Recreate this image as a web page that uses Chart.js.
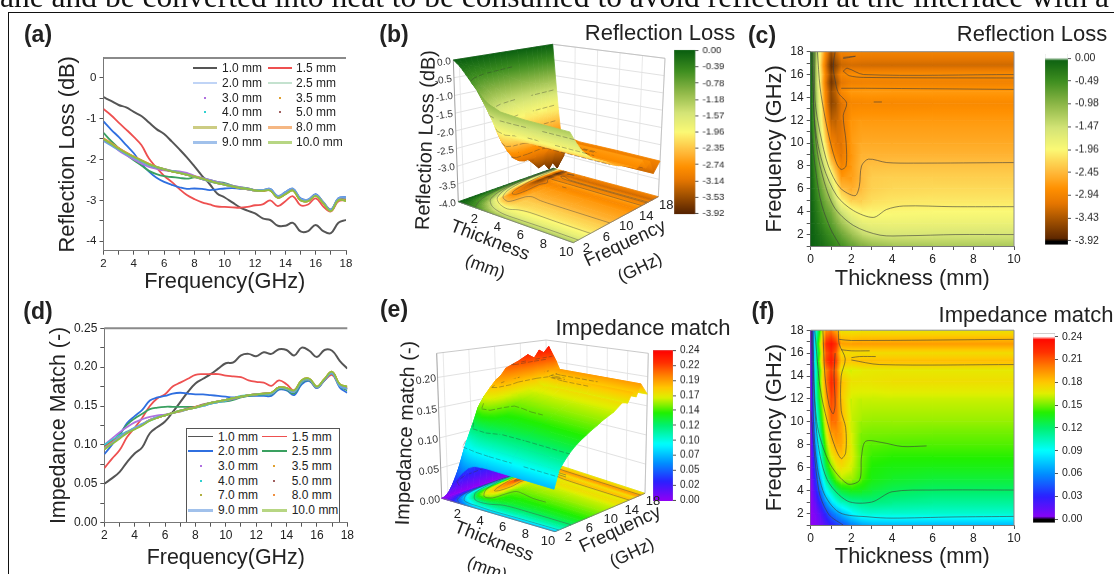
<!DOCTYPE html>
<html>
<head>
<meta charset="utf-8">
<title>Reflection loss and impedance match</title>
<style>
html, body { margin: 0; background: #fff; overflow: hidden; }
#page { position: relative; width: 1114px; height: 574px; overflow: hidden; font-family: "Liberation Sans", Arial, sans-serif; color: #222; filter: blur(0.35px); }
#page canvas { position: absolute; }
.txt { position: absolute; white-space: nowrap; line-height: 1; }
.rule { position: absolute; background: #111; }
.legbox { position: absolute; border: 1px solid #555; border-bottom: 0; box-sizing: border-box; background: #fff; }
</style>
<script src="https://cdn.jsdelivr.net/npm/chart.js@4/dist/chart.umd.min.js"></script>
</head>
<body>
<div id="page"></div>
<script>
/* ---- line panels: one value per 0.5 GHz ---- */
var freqGHz = [2,2.5,3,3.5,4,4.5,5,5.5,6,6.5,7,7.5,8,8.5,9,9.5,10,10.5,11,11.5,12,12.5,13,13.5,14,14.5,15,15.5,16,16.5,17,17.5,18];
var seriesLabels = ['1.0 mm','1.5 mm','2.0 mm','2.5 mm','3.0 mm','3.5 mm','4.0 mm','5.0 mm','7.0 mm','8.0 mm','9.0 mm','10.0 mm'];
var seriesColors = ['#555555','#ee5050','#2f6fe0','#3aa060','#b070e0','#e0a030','#30d0d0','#a06060','#b0b040','#f09040','#6ea0e0','#90c040'];

var rl10 = [-0.48,-0.57,-0.67,-0.73,-0.84,-0.94,-1.1,-1.26,-1.38,-1.56,-1.75,-1.95,-2.17,-2.4,-2.6,-2.83,-2.93,-3.05,-3.17,-3.25,-3.32,-3.44,-3.48,-3.62,-3.62,-3.55,-3.76,-3.75,-3.6,-3.75,-3.8,-3.55,-3.48];
var rl15 = [-0.77,-0.92,-1.1,-1.27,-1.45,-1.65,-1.98,-2.2,-2.4,-2.55,-2.72,-2.87,-2.97,-3.05,-3.1,-3.15,-3.16,-3.17,-3.18,-3.16,-3.12,-3.1,-3.0,-3.14,-3.02,-2.9,-3.12,-3.1,-2.95,-3.15,-3.27,-3.02,-3.0];
var rl20 = [-1.07,-1.27,-1.45,-1.65,-1.85,-2.1,-2.3,-2.45,-2.55,-2.62,-2.68,-2.72,-2.71,-2.72,-2.75,-2.73,-2.71,-2.7,-2.72,-2.72,-2.75,-2.75,-2.72,-2.92,-2.8,-2.72,-2.95,-2.98,-2.85,-3.05,-3.22,-2.95,-2.92];
var rl25 = [-1.35,-1.55,-1.72,-1.88,-2.02,-2.15,-2.28,-2.36,-2.41,-2.43,-2.45,-2.47,-2.44,-2.45,-2.5,-2.55,-2.58,-2.64,-2.68,-2.7,-2.75,-2.76,-2.74,-2.92,-2.82,-2.74,-2.98,-3.0,-2.88,-3.06,-3.24,-2.97,-2.95];
var rl30 = [-1.5,-1.62,-1.78,-1.9,-2.0,-2.1,-2.18,-2.23,-2.27,-2.28,-2.29,-2.33,-2.4,-2.45,-2.5,-2.55,-2.6,-2.64,-2.68,-2.71,-2.75,-2.76,-2.74,-2.9,-2.82,-2.73,-2.98,-3.0,-2.88,-3.06,-3.25,-2.98,-2.95];
var rl35 = [-1.5,-1.62,-1.74,-1.85,-1.95,-2.05,-2.13,-2.2,-2.25,-2.29,-2.33,-2.38,-2.43,-2.48,-2.53,-2.57,-2.61,-2.65,-2.69,-2.72,-2.75,-2.76,-2.74,-2.92,-2.83,-2.74,-2.98,-3.0,-2.87,-3.05,-3.24,-2.97,-2.97];
var rl40 = [-1.52,-1.64,-1.76,-1.87,-1.96,-2.05,-2.14,-2.2,-2.24,-2.28,-2.32,-2.37,-2.42,-2.47,-2.52,-2.57,-2.61,-2.65,-2.69,-2.72,-2.75,-2.76,-2.75,-2.93,-2.84,-2.75,-2.99,-3.01,-2.88,-3.06,-3.25,-2.98,-2.98];
var rl50 = [-1.52,-1.63,-1.74,-1.84,-1.94,-2.03,-2.12,-2.19,-2.24,-2.29,-2.33,-2.38,-2.42,-2.48,-2.53,-2.58,-2.62,-2.66,-2.7,-2.73,-2.76,-2.77,-2.75,-2.93,-2.84,-2.75,-2.99,-3.01,-2.88,-3.06,-3.25,-2.98,-2.99];
var rl70 = [-1.5,-1.62,-1.73,-1.84,-1.93,-2.02,-2.11,-2.18,-2.24,-2.29,-2.33,-2.38,-2.42,-2.47,-2.53,-2.58,-2.62,-2.66,-2.7,-2.73,-2.76,-2.77,-2.76,-2.94,-2.85,-2.76,-3.0,-3.02,-2.89,-3.07,-3.26,-2.99,-3.0];
var rl80 = [-1.48,-1.6,-1.72,-1.83,-1.93,-2.02,-2.11,-2.18,-2.23,-2.28,-2.32,-2.37,-2.41,-2.47,-2.53,-2.58,-2.62,-2.66,-2.7,-2.73,-2.76,-2.77,-2.76,-2.94,-2.85,-2.76,-3.0,-3.02,-2.89,-3.07,-3.26,-2.99,-3.01];
var rl90 = [-1.55,-1.66,-1.77,-1.86,-1.96,-2.05,-2.13,-2.19,-2.24,-2.28,-2.32,-2.37,-2.42,-2.48,-2.54,-2.58,-2.62,-2.66,-2.7,-2.73,-2.76,-2.75,-2.72,-2.89,-2.8,-2.71,-2.96,-2.98,-2.86,-3.04,-3.23,-2.95,-2.93];
var rl100 = [-1.5,-1.62,-1.74,-1.85,-1.94,-2.03,-2.12,-2.18,-2.24,-2.29,-2.33,-2.37,-2.42,-2.47,-2.53,-2.58,-2.62,-2.66,-2.7,-2.72,-2.76,-2.77,-2.76,-2.94,-2.85,-2.76,-3.0,-3.02,-2.89,-3.07,-3.26,-2.99,-3.02];

var im10 = [0.05,0.057,0.065,0.078,0.089,0.097,0.115,0.123,0.13,0.142,0.155,0.168,0.179,0.185,0.191,0.198,0.205,0.206,0.215,0.217,0.214,0.219,0.217,0.223,0.222,0.215,0.225,0.221,0.213,0.222,0.221,0.208,0.198];
var im15 = [0.07,0.082,0.093,0.11,0.122,0.135,0.15,0.16,0.165,0.175,0.18,0.185,0.19,0.191,0.191,0.191,0.189,0.188,0.187,0.183,0.181,0.18,0.176,0.183,0.178,0.17,0.182,0.183,0.174,0.183,0.19,0.176,0.172];
var im20 = [0.088,0.1,0.112,0.128,0.137,0.145,0.157,0.161,0.163,0.166,0.167,0.166,0.165,0.165,0.164,0.163,0.162,0.161,0.162,0.163,0.163,0.163,0.163,0.171,0.17,0.164,0.178,0.182,0.173,0.183,0.192,0.174,0.167];
var im25 = [0.098,0.104,0.114,0.126,0.134,0.14,0.146,0.148,0.149,0.149,0.149,0.149,0.149,0.151,0.153,0.155,0.156,0.158,0.161,0.163,0.164,0.165,0.165,0.172,0.171,0.166,0.18,0.183,0.174,0.184,0.192,0.176,0.17];
var im30 = [0.1,0.108,0.116,0.123,0.129,0.133,0.136,0.138,0.139,0.141,0.143,0.146,0.148,0.15,0.153,0.155,0.157,0.159,0.162,0.164,0.165,0.166,0.166,0.173,0.172,0.168,0.181,0.184,0.174,0.184,0.193,0.177,0.172];
var im35 = [0.095,0.103,0.11,0.116,0.121,0.126,0.132,0.135,0.138,0.141,0.144,0.146,0.148,0.151,0.154,0.156,0.158,0.16,0.162,0.164,0.165,0.166,0.167,0.174,0.173,0.169,0.182,0.184,0.174,0.184,0.193,0.177,0.172];
var im40 = [0.1,0.106,0.112,0.117,0.122,0.126,0.131,0.135,0.138,0.141,0.143,0.146,0.148,0.15,0.153,0.155,0.157,0.16,0.163,0.164,0.165,0.165,0.166,0.173,0.172,0.168,0.181,0.184,0.174,0.184,0.192,0.176,0.172];
var im50 = [0.097,0.104,0.11,0.116,0.121,0.126,0.132,0.135,0.138,0.141,0.144,0.147,0.149,0.152,0.154,0.156,0.158,0.16,0.162,0.164,0.165,0.166,0.167,0.174,0.173,0.169,0.182,0.184,0.174,0.184,0.193,0.177,0.173];
var im70 = [0.094,0.102,0.109,0.116,0.121,0.126,0.132,0.135,0.138,0.141,0.144,0.146,0.148,0.151,0.154,0.156,0.158,0.16,0.162,0.164,0.165,0.166,0.167,0.174,0.173,0.169,0.183,0.185,0.175,0.185,0.194,0.178,0.174];
var im80 = [0.096,0.103,0.11,0.116,0.121,0.126,0.132,0.135,0.138,0.141,0.143,0.146,0.149,0.151,0.154,0.156,0.158,0.16,0.162,0.164,0.165,0.166,0.167,0.174,0.173,0.17,0.183,0.185,0.175,0.185,0.194,0.178,0.175];
var im90 = [0.095,0.102,0.11,0.116,0.122,0.127,0.132,0.136,0.138,0.141,0.144,0.146,0.148,0.151,0.154,0.156,0.158,0.16,0.162,0.164,0.165,0.166,0.166,0.173,0.172,0.168,0.182,0.184,0.174,0.184,0.192,0.176,0.172];
var im100 = [0.094,0.101,0.108,0.115,0.12,0.125,0.131,0.135,0.138,0.141,0.144,0.146,0.148,0.151,0.154,0.156,0.158,0.16,0.162,0.164,0.165,0.166,0.167,0.174,0.173,0.17,0.183,0.185,0.175,0.185,0.194,0.178,0.175];

/* ---- surface grids: rows follow gridFreq, columns follow gridThick ---- */
var gridThick = [0,0.25,0.5,0.75,1,1.25,1.5,2,2.5,3,4,6,10];
var gridFreq = [1,2,3,4,5,6,7,8,9,10,12,13.5,14.5,15.3,16,16.8,18];
var rlGrid = [
  [0,-0.06,-0.13,-0.22,-0.32,-0.42,-0.52,-0.72,-0.9,-1.02,-1.15,-1.2,-1.22],
  [0,-0.1,-0.22,-0.36,-0.48,-0.62,-0.77,-1.07,-1.35,-1.5,-1.55,-1.55,-1.52],
  [0,-0.17,-0.36,-0.54,-0.67,-0.88,-1.1,-1.45,-1.72,-1.78,-1.8,-1.78,-1.78],
  [0,-0.23,-0.48,-0.7,-0.84,-1.14,-1.45,-1.85,-2.02,-2.0,-1.98,-1.96,-1.95],
  [0,-0.3,-0.6,-0.88,-1.1,-1.52,-1.98,-2.3,-2.28,-2.18,-2.12,-2.1,-2.1],
  [0,-0.38,-0.75,-1.1,-1.38,-1.9,-2.4,-2.55,-2.41,-2.27,-2.22,-2.2,-2.2],
  [0,-0.46,-0.92,-1.35,-1.75,-2.25,-2.72,-2.68,-2.45,-2.29,-2.28,-2.28,-2.28],
  [0,-0.55,-1.1,-1.6,-2.17,-2.6,-2.97,-2.71,-2.44,-2.4,-2.38,-2.38,-2.38],
  [0,-0.65,-1.3,-1.9,-2.6,-2.95,-3.1,-2.75,-2.5,-2.5,-2.5,-2.5,-2.5],
  [0,-0.75,-1.5,-2.2,-2.93,-3.1,-3.16,-2.71,-2.58,-2.58,-2.58,-2.58,-2.58],
  [0,-0.95,-1.85,-2.7,-3.32,-3.3,-3.12,-2.75,-2.72,-2.72,-2.72,-2.72,-2.72],
  [0,-1.05,-2.0,-2.95,-3.62,-3.45,-3.14,-2.92,-2.9,-2.9,-2.9,-2.88,-2.88],
  [0,-1.1,-2.1,-3.0,-3.55,-3.3,-2.9,-2.72,-2.72,-2.7,-2.72,-2.72,-2.72],
  [0,-1.15,-2.2,-3.15,-3.76,-3.5,-3.12,-3.0,-2.98,-2.98,-2.98,-2.98,-2.98],
  [0,-1.15,-2.15,-3.0,-3.6,-3.3,-2.95,-2.85,-2.85,-2.85,-2.85,-2.85,-2.85],
  [0,-1.2,-2.3,-3.2,-3.82,-3.6,-3.27,-3.22,-3.23,-3.24,-3.24,-3.24,-3.24],
  [0,-1.1,-2.1,-2.9,-3.5,-3.2,-3.0,-2.92,-2.95,-2.95,-2.95,-2.95,-2.97]
];
var imGrid = [
  [0,0.004,0.01,0.018,0.028,0.036,0.042,0.055,0.065,0.07,0.072,0.072,0.072],
  [0,0.008,0.018,0.034,0.05,0.06,0.07,0.088,0.098,0.1,0.1,0.1,0.1],
  [0,0.015,0.035,0.062,0.08,0.095,0.105,0.112,0.115,0.118,0.115,0.112,0.112],
  [0,0.025,0.055,0.09,0.105,0.12,0.13,0.137,0.135,0.13,0.125,0.122,0.122],
  [0,0.035,0.075,0.11,0.13,0.148,0.158,0.157,0.146,0.137,0.133,0.13,0.13],
  [0,0.045,0.09,0.125,0.15,0.165,0.172,0.163,0.149,0.139,0.137,0.136,0.136],
  [0,0.055,0.1,0.14,0.165,0.178,0.182,0.167,0.149,0.143,0.141,0.141,0.141],
  [0,0.065,0.108,0.15,0.179,0.19,0.19,0.165,0.149,0.147,0.146,0.146,0.146],
  [0,0.072,0.12,0.162,0.191,0.197,0.191,0.164,0.152,0.151,0.151,0.15,0.15],
  [0,0.08,0.13,0.172,0.205,0.203,0.189,0.162,0.156,0.155,0.155,0.155,0.155],
  [0,0.1,0.15,0.188,0.214,0.208,0.181,0.163,0.162,0.162,0.162,0.162,0.162],
  [0,0.105,0.158,0.2,0.223,0.213,0.183,0.171,0.17,0.17,0.172,0.172,0.172],
  [0,0.1,0.155,0.198,0.215,0.205,0.17,0.164,0.167,0.168,0.168,0.168,0.168],
  [0,0.108,0.165,0.215,0.228,0.216,0.183,0.181,0.183,0.183,0.183,0.183,0.183],
  [0,0.1,0.16,0.21,0.222,0.208,0.174,0.173,0.173,0.173,0.173,0.173,0.173],
  [0,0.11,0.17,0.22,0.232,0.22,0.19,0.192,0.192,0.192,0.192,0.192,0.192],
  [0,0.095,0.15,0.195,0.2,0.188,0.172,0.167,0.17,0.17,0.17,0.17,0.17]
];

/* ---- contour lines as [thickness, frequency], level in the panel's unit ---- */
var rlContours = [
  { level: -2.94, pts: [[1.2,18],[1.11,16.7],[1.2,15.5],[1.36,14.4],[1.77,13.5],[1.6,12.4],[1.74,10.1],[1.74,8],[1.5,7.7],[1.28,8.2],[0.98,10],[0.7,12.3],[0.46,14.9],[0.33,18]] },
  { level: -2.45, pts: [[0.21,18],[0.21,13.8],[0.46,10.9],[0.87,8],[1.44,6.1],[2.18,5.4],[2.39,6.2],[2.5,8],[2.84,8.6],[3.74,8.3],[5.05,8.25],[10,8.3]] },
  { level: -1.96, pts: [[0.1,18],[0.21,11.5],[0.62,8],[1.28,5.4],[2.1,4.1],[3.08,3.5],[3.74,4.2],[4.56,4.5],[7,4.44],[10,4.44]] },
  { level: -1.47, pts: [[0.05,18],[0.21,11],[0.46,8],[1.12,4.5],[2.1,2.8],[3.41,1.95],[4.7,1.9],[7.1,2],[10,2]] },
  { level: -0.49, pts: [[0,11],[0.46,5.2],[0.95,2.6],[1.44,1.03]] },
  { level: -2.94, pts: [[1.6,16.3],[1.8,16.55],[2.6,16],[10,16]] },
  { level: -2.94, pts: [[1.6,16.3],[1.9,15.9],[2.6,15.75],[10,15.7]] },
  { level: -2.94, pts: [[1.5,14.8],[2.7,14.8],[10,14.7]] },
  { level: -2.94, pts: [[1.6,17.5],[2.2,17.6],[1.6,17.4]] },
  { level: -2.94, pts: [[3.1,13.6],[3.5,13.6]] }
];
var imContours = [
  { level: 0.21, pts: [[1.2,16],[1.15,14],[1.2,11.5],[1.1,10.7],[0.9,11.5],[0.7,14],[0.6,18]] },
  { level: 0.18, pts: [[1.36,18],[1.4,16.8],[1.7,15.5],[1.5,14],[1.5,11],[1.72,9.5],[1.72,7.3],[1.5,6.8],[1.2,7.8],[0.82,10],[0.46,13],[0.2,18]] },
  { level: 0.15, pts: [[0.1,18],[0.3,10],[0.9,6.5],[1.8,4.6],[2.4,4.9],[2.5,7],[2.7,8.3],[3.5,8.2],[4.5,7.85],[5.7,7.9]] },
  { level: 0.12, pts: [[0.05,18],[0.3,9],[0.8,5],[1.8,3.1],[3,3],[4,3.9],[6,4.05],[10,4.05]] },
  { level: 0.09, pts: [[0.03,18],[0.2,8],[0.6,4],[1.4,2.1],[2.9,1.7],[4,1.6],[7,1.7],[10,1.75]] },
  { level: 0.03, pts: [[0,11],[0.4,4],[0.9,1.9],[1.6,1]] },
  { level: 0.18, pts: [[1.4,17.2],[2,17.1],[10,17.2]] },
  { level: 0.18, pts: [[1.5,16.3],[2,16.2],[2.9,16.2]] },
  { level: 0.18, pts: [[2,15.6],[2.4,15.7],[3.2,15.7]] },
  { level: 0.18, pts: [[2,15.4],[3.4,15],[10,15]] }
];

/* ---- colour maps and tick lists ---- */
var rlStopValues = [0,-0.5,-1,-1.5,-1.96,-2.45,-2.8,-3.1,-3.45,-3.92];
var rlStopColors = ['#0a5f10','#3f8f20','#8fb848','#d4e476','#fbf975','#ffb93a','#ff9000','#e87800','#a85500','#562300'];
var imStopValues = [0,0.03,0.06,0.09,0.12,0.14,0.15,0.165,0.18,0.2,0.22,0.24];
var imStopColors = ['#9000f5','#2a20ff','#0090ff','#00ffff','#00f070','#20f000','#70f000','#e0f000','#ffc800','#ff8000','#ff3000','#ff0000'];
var barTicksB = [0,-0.392,-0.784,-1.176,-1.568,-1.96,-2.352,-2.744,-3.136,-3.528,-3.92];
var barTicksC = [0,-0.49,-0.98,-1.47,-1.96,-2.45,-2.94,-3.43,-3.92];
var barTicksE = [0.24,0.216,0.192,0.168,0.144,0.12,0.096,0.072,0.048,0.024,0];
var barTicksF = [0.24,0.21,0.18,0.15,0.12,0.09,0.06,0.03,0];
var zTicksB = [0,-0.5,-1,-1.5,-2,-2.5,-3,-3.5,-4];
var zTicksE = [0,0.05,0.1,0.15,0.2];
var thickTicks3d = [2,4,6,8,10];
var freqTicks3d = [2,6,10,14,18];
var lineFreqTicks = [2,3,4,5,6,7,8,9,10,11,12,13,14,15,16,17,18];
var rlAxisTicks = [0,-0.5,-1,-1.5,-2,-2.5,-3,-3.5,-4];
var imAxisTicks = [0,0.025,0.05,0.075,0.1,0.125,0.15,0.175,0.2,0.225,0.25];
var heatThickTicks = [0,1,2,3,4,5,6,7,8,9,10];
var heatFreqTicks = [1,2,3,4,5,6,7,8,9,10,11,12,13,14,15,16,17,18];

(function () {
    'use strict';

    var page = document.getElementById('page');
    var FONT = '"Liberation Sans", Arial, sans-serif';
    Chart.defaults.font.family = FONT;
    Chart.defaults.animation = false;
    Chart.defaults.events = [];
    Chart.defaults.color = '#222';

    // ---- small helpers ----------------------------------------------------
    var text = function (str, x, y, size, o) {
        o = o || {};
        var d = document.createElement('div');
        d.className = 'txt';
        d.textContent = str;
        d.style.left = x + 'px';
        d.style.top = y + 'px';
        d.style.fontSize = size + 'px';
        if (o.bold) d.style.fontWeight = 'bold';
        if (o.color) d.style.color = o.color;
        if (o.family) d.style.fontFamily = o.family;
        var ax = o.anchor === 'l' ? '0' : o.anchor === 'r' ? '-100%' : '-50%';
        d.style.transform = 'translate(' + ax + ',-50%) rotate(' + (o.rot || 0) + 'deg)';
        page.appendChild(d);
        return d;
    };

    var rule = function (x, y, w, h) {
        var d = document.createElement('div');
        d.className = 'rule';
        d.style.cssText = 'left:' + x + 'px;top:' + y + 'px;width:' + w + 'px;height:' + h + 'px';
        page.appendChild(d);
    };

    var addCanvas = function (x0, y0, x1, y1) {
        var c = document.createElement('canvas');
        c.width = x1 - x0;
        c.height = y1 - y0;
        c.style.left = x0 + 'px';
        c.style.top = y0 + 'px';
        c.style.width = (x1 - x0) + 'px';
        c.style.height = (y1 - y0) + 'px';
        page.appendChild(c);
        return c;
    };

    var hexRgb = function (h) {
        return [parseInt(h.substr(1, 2), 16), parseInt(h.substr(3, 2), 16), parseInt(h.substr(5, 2), 16)];
    };

    var makeMap = function (vals, cols) {
        var rgb = cols.map(hexRgb);
        var asc = vals[0] < vals[vals.length - 1];
        return function (v) {
            var n = vals.length, i;
            if (asc ? v <= vals[0] : v >= vals[0]) return 'rgb(' + rgb[0].join(',') + ')';
            if (asc ? v >= vals[n - 1] : v <= vals[n - 1]) return 'rgb(' + rgb[n - 1].join(',') + ')';
            for (i = 1; i < n; i++) {
                if (asc ? v <= vals[i] : v >= vals[i]) {
                    var k = (v - vals[i - 1]) / (vals[i] - vals[i - 1]);
                    return 'rgb(' + [0, 1, 2].map(function (c) {
                        return Math.round(rgb[i - 1][c] + k * (rgb[i][c] - rgb[i - 1][c]));
                    }).join(',') + ')';
                }
            }
        };
    };
    var rlMap = makeMap(rlStopValues, rlStopColors);
    var imMap = makeMap(imStopValues, imStopColors);

    // Gradient across one quad, fitted to the four corner values so neighbouring
    // cells blend without having to resample the grid.
    var quadPaint = function (c) {
        var ds = c.dataset;
        if (ds._paint) return ds._paint;
        var sx = c.chart.scales.x, sy = c.chart.scales.y;
        var p = ds.data.slice(0, 4).map(function (d) {
            return [sx.getPixelForValue(d.x), sy.getPixelForValue(d.y)];
        });
        var v = ds.cornerValues;
        var mean = (v[0] + v[1] + v[2] + v[3]) / 4;
        if (!isFinite(p[0][0]) || !isFinite(p[0][1])) return ds.colorMap(mean);
        var ux = (p[1][0] + p[2][0] - p[0][0] - p[3][0]) / 2, uy = (p[1][1] + p[2][1] - p[0][1] - p[3][1]) / 2;
        var wx = (p[2][0] + p[3][0] - p[0][0] - p[1][0]) / 2, wy = (p[2][1] + p[3][1] - p[0][1] - p[1][1]) / 2;
        var du = (v[1] + v[2] - v[0] - v[3]) / 2, dw = (v[2] + v[3] - v[0] - v[1]) / 2;
        var det = ux * wy - uy * wx;
        if (Math.abs(det) < 0.01) return (ds._paint = ds.colorMap(mean));
        var gx = (du * wy - dw * uy) / det, gy = (ux * dw - wx * du) / det;
        var g = Math.sqrt(gx * gx + gy * gy);
        if (g < 1e-9) return (ds._paint = ds.colorMap(mean));
        var dx = gx / g, dy = gy / g;
        var cx = (p[0][0] + p[1][0] + p[2][0] + p[3][0]) / 4, cy = (p[0][1] + p[1][1] + p[2][1] + p[3][1]) / 4;
        var lo = 1e9, hi = -1e9;
        p.forEach(function (q) {
            var s = (q[0] - cx) * dx + (q[1] - cy) * dy;
            lo = Math.min(lo, s);
            hi = Math.max(hi, s);
        });
        var grad = c.chart.ctx.createLinearGradient(cx + dx * lo, cy + dy * lo, cx + dx * hi, cy + dy * hi);
        for (var i = 0; i <= 5; i++) {
            var s2 = lo + (hi - lo) * i / 5;
            grad.addColorStop(i / 5, ds.colorMap(mean + g * s2));
        }
        return (ds._paint = grad);
    };

    var quadDataset = function (pts, vals, map) {
        return {
            data: pts.concat([pts[0]]),
            cornerValues: vals,
            colorMap: map,
            showLine: true,
            fill: 'shape',
            pointRadius: 0,
            tension: 0,
            borderWidth: 0.8,
            backgroundColor: quadPaint,
            borderColor: quadPaint
        };
    };

    var framePlugin = function (width, sides) {
        return {
            id: 'frameLines',
            afterDraw: function (chart) {
                var a = chart.chartArea, ctx = chart.ctx;
                ctx.save();
                ctx.strokeStyle = '#8a8a8a';
                ctx.lineWidth = width;
                ctx.beginPath();
                if (sides.indexOf('t') >= 0) { ctx.moveTo(a.left, a.top); ctx.lineTo(a.right, a.top); }
                if (sides.indexOf('r') >= 0) { ctx.moveTo(a.right, a.top); ctx.lineTo(a.right, a.bottom); }
                ctx.stroke();
                ctx.restore();
            }
        };
    };

    var tickList = function (list) {
        return function (scale) {
            scale.ticks = list.map(function (v) { return { value: v }; });
        };
    };

    // Chart whose plot area lands exactly on area = [left, top, right, bottom]
    var axesChart = function (cfg) {
        var o = cfg.outer, a = cfg.area;
        var canvas = addCanvas(o[0], o[1], o[2], o[3]);
        return new Chart(canvas, {
            type: 'scatter',
            data: { datasets: cfg.datasets },
            plugins: [framePlugin(cfg.frameWidth, cfg.frameSides)],
            options: {
                responsive: false,
                layout: { padding: { left: 0, top: a[1] - o[1], right: o[2] - a[2], bottom: 0 } },
                plugins: { legend: false, tooltip: false },
                scales: {
                    x: {
                        type: 'linear',
                        min: cfg.xMin,
                        max: cfg.xMax,
                        afterFit: function (s) { s.height = o[3] - a[3]; },
                        afterBuildTicks: tickList(cfg.xTicks),
                        grid: { drawOnChartArea: false, color: '#555', tickLength: 4 },
                        border: { color: '#777' },
                        ticks: {
                            autoSkip: false, maxRotation: 0, padding: 2, color: '#222',
                            font: { size: cfg.tickSize },
                            callback: cfg.xLabel
                        },
                        title: {
                            display: true, text: cfg.xTitle, color: '#222',
                            font: { size: cfg.titleSize }, padding: { top: 0, bottom: cfg.xTitlePad }
                        }
                    },
                    y: {
                        type: 'linear',
                        min: cfg.yMin,
                        max: cfg.yMax,
                        afterFit: function (s) { s.width = a[0] - o[0]; },
                        afterBuildTicks: tickList(cfg.yTicks),
                        grid: { drawOnChartArea: false, color: '#555', tickLength: 4 },
                        border: { color: '#777' },
                        ticks: {
                            autoSkip: false, padding: 3, color: '#222',
                            font: { size: cfg.tickSize },
                            callback: cfg.yLabel
                        },
                        title: {
                            display: true, text: cfg.yTitle, color: '#222',
                            font: { size: cfg.titleSize }, padding: { top: cfg.yTitlePad, bottom: 0 }
                        }
                    }
                }
            }
        });
    };

    // ---- colour bars ------------------------------------------------------
    var colorBar = function (area, rangeTop, rangeBottom, ticks, map, fontSize, tips) {
        var canvas = addCanvas(area[0] - 2, area[1] - 8, area[2] + 42, area[3] + 8);
        new Chart(canvas, {
            type: 'bar',
            data: {
                labels: ['scale'],
                datasets: [{
                    data: [[rangeBottom, rangeTop]],
                    barPercentage: 1,
                    categoryPercentage: 1,
                    backgroundColor: function (c) {
                        var s = c.chart.scales.y;
                        var top = s.getPixelForValue(rangeTop), bot = s.getPixelForValue(rangeBottom);
                        if (!isFinite(top) || !isFinite(bot)) return '#888';
                        var g = c.chart.ctx.createLinearGradient(0, top, 0, bot);
                        var steps = 60, i;
                        var hi = ticks[0], lo = ticks[ticks.length - 1];
                        if (hi < lo) { var t0 = hi; hi = lo; lo = t0; }
                        for (i = 0; i <= steps; i++) {
                            var v = rangeTop + (rangeBottom - rangeTop) * i / steps;
                            var col = map(v);
                            if (tips && v > hi) col = '#ffffff';
                            if (tips && v < lo) col = '#000000';
                            g.addColorStop(i / steps, col);
                        }
                        return g;
                    },
                    borderColor: '#999',
                    borderWidth: 0.5
                }]
            },
            options: {
                responsive: false,
                layout: { padding: { left: 2, top: 8, right: 0, bottom: 8 } },
                plugins: { legend: false, tooltip: false },
                scales: {
                    x: { display: false, offset: true, grid: { display: false } },
                    y: {
                        position: 'right',
                        min: rangeBottom,
                        max: rangeTop,
                        afterFit: function (s) { s.width = 42; },
                        afterBuildTicks: tickList(ticks),
                        grid: { drawOnChartArea: false, color: '#555', tickLength: 3 },
                        border: { display: false },
                        ticks: {
                            autoSkip: false, padding: 4, color: '#222',
                            font: { size: fontSize },
                            callback: function (v) { return Number(v).toFixed(2); }
                        }
                    }
                }
            }
        });
    };

    // ---- contour maps (c) and (f) -----------------------------------------
    var heatDatasets = function (grid, map, contours) {
        var sets = [];
        contours.forEach(function (c) {
            sets.push({
                data: c.pts.map(function (p) { return { x: p[0], y: p[1] }; }),
                showLine: true, pointRadius: 0, tension: 0.3, fill: false,
                borderColor: 'rgba(60,60,60,0.6)', borderWidth: 1
            });
        });
        for (var r = 0; r < gridFreq.length - 1; r++) {
            for (var k = 0; k < gridThick.length - 1; k++) {
                sets.push(quadDataset([
                    { x: gridThick[k], y: gridFreq[r] },
                    { x: gridThick[k + 1], y: gridFreq[r] },
                    { x: gridThick[k + 1], y: gridFreq[r + 1] },
                    { x: gridThick[k], y: gridFreq[r + 1] }
                ], [grid[r][k], grid[r][k + 1], grid[r + 1][k + 1], grid[r + 1][k]], map));
            }
        }
        return sets;
    };

    var evenLabel = function (v) { return v % 2 === 0 ? String(v) : ''; };

    axesChart({
        outer: [757, 40, 1030, 293], area: [810.7, 51.7, 1014, 246],
        datasets: heatDatasets(rlGrid, rlMap, rlContours),
        xMin: 0, xMax: 10, yMin: 1, yMax: 18, xTicks: heatThickTicks, yTicks: heatFreqTicks,
        xLabel: evenLabel,
        yLabel: function (v) { return v % 2 === 0 ? String(v) : ''; },
        xTitle: 'Thickness (mm)', yTitle: 'Frequency (GHz)', titleSize: 21.8, tickSize: 12,
        xTitlePad: 1.4, yTitlePad: 5, frameWidth: 1, frameSides: 'tr'
    });
    axesChart({
        outer: [757, 320, 1030, 571], area: [810.7, 330, 1014, 525],
        datasets: heatDatasets(imGrid, imMap, imContours),
        xMin: 0, xMax: 10, yMin: 1, yMax: 18, xTicks: heatThickTicks, yTicks: heatFreqTicks,
        xLabel: evenLabel,
        yLabel: function (v) { return v % 2 === 0 ? String(v) : ''; },
        xTitle: 'Thickness (mm)', yTitle: 'Frequency (GHz)', titleSize: 21.8, tickSize: 12,
        xTitlePad: 1, yTitlePad: 5, frameWidth: 1, frameSides: 'tr'
    });

    colorBar([1044.7, 52, 1067.7, 246.7], 0.08, -4, barTicksC, rlMap, 10.5, true);
    colorBar([1032.7, 330.7, 1055.3, 525], 0.2446, -0.0047, barTicksF, imMap, 10.5, true);
    colorBar([674.3, 48.3, 695.7, 216], 0.02, -3.94, barTicksB, rlMap, 9.5, false);
    colorBar([652.7, 348.3, 673.3, 502.7], 0.2405, -0.001, barTicksE, imMap, 10, false);

    // ---- 3D panels (b) and (e) --------------------------------------------
    // Corners of the data box on the page, interpolated for any (t, f, z).
    var makeProjector = function (box) {
        return function (t, f, z) {
            var a = t / 10, b = (f - 1) / 17, c = (z - box.zMin) / (box.zMax - box.zMin);
            var mix = function (q, i) {
                var near = q.L[i] + (q.F[i] - q.L[i]) * a;
                var far = q.B[i] + (q.R[i] - q.B[i]) * a;
                return near + (far - near) * b;
            };
            return {
                x: mix(box.floor, 0) + (mix(box.top, 0) - mix(box.floor, 0)) * c,
                y: mix(box.floor, 1) + (mix(box.top, 1) - mix(box.floor, 1)) * c
            };
        };
    };

    var surface3d = function (box, grid, map, contours, zTicks) {
        var proj = makeProjector(box);
        var back = [], items = [];
        var wire = function (a, b, color, width) {
            back.push({
                data: [a, b], showLine: true, pointRadius: 0, fill: false,
                borderColor: color, borderWidth: width
            });
        };
        // back walls
        zTicks.forEach(function (z) {
            wire(proj(0, 1, z), proj(0, 18, z), '#d9d9d9', 0.8);
            wire(proj(0, 18, z), proj(10, 18, z), '#d9d9d9', 0.8);
        });
        freqTicks3d.forEach(function (f) { wire(proj(0, f, box.zMin), proj(0, f, box.zMax), '#e2e2e2', 0.8); });
        thickTicks3d.forEach(function (t) { wire(proj(t, 18, box.zMin), proj(t, 18, box.zMax), '#e2e2e2', 0.8); });
        wire(proj(0, 1, box.zMax), proj(0, 18, box.zMax), '#bbb', 0.8);
        wire(proj(0, 18, box.zMax), proj(10, 18, box.zMax), '#bbb', 0.8);
        wire(proj(0, 1, box.zMin), proj(0, 1, box.zMax), '#888', 0.8);
        wire(proj(10, 18, box.zMin), proj(10, 18, box.zMax), '#bbb', 0.8);

        var r, k;
        // floor map and its contour lines
        for (r = gridFreq.length - 2; r >= 0; r--) {
            for (k = 0; k < gridThick.length - 1; k++) {
                back.push(quadDataset([
                    proj(gridThick[k], gridFreq[r], box.zMin),
                    proj(gridThick[k + 1], gridFreq[r], box.zMin),
                    proj(gridThick[k + 1], gridFreq[r + 1], box.zMin),
                    proj(gridThick[k], gridFreq[r + 1], box.zMin)
                ], [grid[r][k], grid[r][k + 1], grid[r + 1][k + 1], grid[r + 1][k]], map));
            }
        }
        contours.forEach(function (c) {
            back.push({
                data: c.pts.map(function (p) { return proj(p[0], p[1], box.zMin); }),
                showLine: true, pointRadius: 0, tension: 0.3, fill: false,
                borderColor: 'rgba(70,70,70,0.55)', borderWidth: 0.8
            });
        });
        wire(proj(0, 1, box.zMin), proj(10, 1, box.zMin), '#777', 0.8);
        wire(proj(10, 1, box.zMin), proj(10, 18, box.zMin), '#777', 0.8);

        // surface, sorted far to near, with contour pieces mixed in at their depth
        var depth = function (t, f) { return (f - 1) / 17 - t / 10; };
        for (r = 0; r < gridFreq.length - 1; r++) {
            for (k = 0; k < gridThick.length - 1; k++) {
                items.push({
                    depth: depth((gridThick[k] + gridThick[k + 1]) / 2, (gridFreq[r] + gridFreq[r + 1]) / 2),
                    set: quadDataset([
                        proj(gridThick[k], gridFreq[r], grid[r][k]),
                        proj(gridThick[k + 1], gridFreq[r], grid[r][k + 1]),
                        proj(gridThick[k + 1], gridFreq[r + 1], grid[r + 1][k + 1]),
                        proj(gridThick[k], gridFreq[r + 1], grid[r + 1][k])
                    ], [grid[r][k], grid[r][k + 1], grid[r + 1][k + 1], grid[r + 1][k]], map)
                });
            }
        }
        contours.forEach(function (c) {
            for (var i = 0; i < c.pts.length - 1; i++) {
                var a = c.pts[i], b = c.pts[i + 1];
                items.push({
                    depth: depth((a[0] + b[0]) / 2, (a[1] + b[1]) / 2) - 0.12,
                    set: {
                        data: [proj(a[0], a[1], c.level), proj(b[0], b[1], c.level)],
                        showLine: true, pointRadius: 0, fill: false,
                        borderColor: 'rgba(50,50,50,0.45)', borderWidth: 0.8, borderDash: [5, 2]
                    }
                });
            }
        });
        items.sort(function (p, q) { return q.depth - p.depth; });

        // Chart.js paints dataset 0 last, so the list runs nearest first
        var sets = back.concat(items.map(function (it) { return it.set; })).reverse();
        new Chart(addCanvas(0, 0, 1114, 574), {
            type: 'scatter',
            data: { datasets: sets },
            options: {
                responsive: false,
                layout: { padding: 0 },
                plugins: { legend: false, tooltip: false },
                scales: {
                    x: { display: false, min: 0, max: 1114 },
                    y: { display: false, min: 0, max: 574, reverse: true }
                }
            }
        });
        return proj;
    };

    var boxB = {
        zMin: -4, zMax: 0,
        floor: { L: [458.3, 201.7], F: [573.3, 242.7], R: [658.3, 196.7], B: [553.3, 168.3] },
        top: { L: [453.3, 60], F: [568.3, 83.3], R: [665, 58.3], B: [552.7, 44.3] }
    };
    var boxE = {
        zMin: 0, zMax: 0.24,
        floor: { L: [441.7, 498.3], F: [555, 531.7], R: [645, 493.3], B: [549, 462] },
        top: { L: [436.7, 353.3], F: [551.7, 390], R: [648.3, 353.3], B: [546, 340] }
    };
    var projB = surface3d(boxB, rlGrid, rlMap, rlContours, zTicksB);
    var projE = surface3d(boxE, imGrid, imMap, imContours, zTicksE);

    var labels3d = function (proj, box, zTicks, decimals, zSize) {
        zTicks.forEach(function (z) {
            var p = proj(0, 1, z);
            text(z.toFixed(decimals), p.x - 2, p.y + 2, zSize, { anchor: 'r', color: '#333', rot: -8 });
        });
        thickTicks3d.forEach(function (t) {
            var p = proj(t, 1, box.zMin);
            text(String(t), p.x - 7, p.y + 8, 13);
        });
        freqTicks3d.forEach(function (f) {
            var p = proj(10, f, box.zMin);
            text(String(f), p.x + 8, p.y + 7, 13);
        });
    };
    labels3d(projB, boxB, zTicksB, 1, 10);
    labels3d(projE, boxE, zTicksE, 2, 10.5);

    text('Reflection Loss (dB)', 425, 140, 20, { rot: -88 });
    text('Thickness', 490, 240, 18.5, { rot: 21 });
    text('(mm)', 485, 267, 17.5, { rot: 20 });
    text('Frequency', 625, 243, 18.5, { rot: -25 });
    text('(GHz)', 640, 268, 17.5, { rot: -25 });

    text('Impedance match (-)', 405, 433, 20, { rot: -88 });
    text('Thickness', 494, 541, 18.5, { rot: 21 });
    text('(mm)', 487, 569, 17.5, { rot: 20 });
    text('Frequency', 620, 529, 18.5, { rot: -25 });
    text('(GHz)', 632, 553, 17.5, { rot: -25 });

    // ---- line panels (a) and (d) ------------------------------------------
    var lineDatasets = function (series) {
        return series.map(function (vals, i) {
            return {
                label: seriesLabels[i],
                data: vals.map(function (v, n) { return { x: freqGHz[n], y: v }; }),
                showLine: true,
                pointRadius: 0,
                tension: 0.4,
                fill: false,
                borderColor: seriesColors[i],
                borderWidth: i === 0 ? 2 : 1.8,
                order: -i
            };
        });
    };

    axesChart({
        outer: [50, 48, 360, 296], area: [103.5, 57, 346, 250.7],
        datasets: lineDatasets([rl10, rl15, rl20, rl25, rl30, rl35, rl40, rl50, rl70, rl80, rl90, rl100]),
        xMin: 2, xMax: 18, yMin: -4.23, yMax: 0.48, xTicks: lineFreqTicks, yTicks: rlAxisTicks,
        xLabel: evenLabel,
        yLabel: function (v) { return Number.isInteger(v) ? String(v) : ''; },
        xTitle: 'Frequency(GHz)', yTitle: 'Reflection Loss (dB)', titleSize: 21.8, tickSize: 11.5,
        xTitlePad: 1, yTitlePad: 5, frameWidth: 2, frameSides: 't'
    });
    axesChart({
        outer: [41, 318, 360, 572], area: [104.3, 327.7, 347.3, 522.7],
        datasets: lineDatasets([im10, im15, im20, im25, im30, im35, im40, im50, im70, im80, im90, im100]),
        xMin: 2, xMax: 18, yMin: 0, yMax: 0.25, xTicks: lineFreqTicks, yTicks: imAxisTicks,
        xLabel: evenLabel,
        yLabel: function (v) { return Math.round(v * 1000) % 50 === 0 ? Number(v).toFixed(2) : ''; },
        xTitle: 'Frequency(GHz)', yTitle: 'Impedance Match (-)', titleSize: 21.4, tickSize: 12,
        xTitlePad: 1, yTitlePad: 5, frameWidth: 2, frameSides: 't'
    });

    // ---- legends ----------------------------------------------------------
    var sampleStyle = function (kind, color) {
        var css = 'position:absolute;background:' + color + ';';
        if (kind === 'line') return css + 'height:1.5px;';
        if (kind === 'pale') return css + 'height:1.5px;opacity:0.3;';
        if (kind === 'thick') return css + 'height:3px;opacity:0.65;';
        return css + 'height:2px;';
    };
    var legend = function (rows, col1, col2, kinds, size) {
        seriesLabels.forEach(function (label, i) {
            var col = i % 2 === 0 ? col1 : col2;
            var y = rows[Math.floor(i / 2)];
            var s = document.createElement('div');
            var kind = kinds[i];
            s.style.cssText = sampleStyle(kind, seriesColors[i]) +
                'left:' + (kind === 'dot' ? col.x0 + (col.x1 - col.x0) / 2 - 1 : col.x0) + 'px;top:' + (y - 1) + 'px;width:' +
                (kind === 'dot' ? 2 : col.x1 - col.x0) + 'px';
            page.appendChild(s);
            text(label, col.tx, y, size, { anchor: 'l' });
        });
    };
    legend([68.3, 83, 97.7, 112.3, 127, 141.7],
        { x0: 192.7, x1: 217.3, tx: 222 }, { x0: 268, x1: 292, tx: 296 },
        ['line', 'line', 'pale', 'pale', 'dot', 'dot', 'dot', 'dot', 'thick', 'thick', 'thick', 'thick'], 12);

    var lb = document.createElement('div');
    lb.className = 'legbox';
    lb.style.cssText = 'left:186px;top:428px;width:154px;height:94px';
    page.appendChild(lb);
    legend([436.7, 451.3, 466, 480.7, 495.3, 510],
        { x0: 188, x1: 213, tx: 218 }, { x0: 261.7, x1: 286.7, tx: 291.7 },
        ['line', 'line', 'line', 'line', 'dot', 'dot', 'dot', 'dot', 'dot', 'dot', 'thick', 'thick'], 12);

    // ---- titles, panel letters and the page furniture ----------------------
    text('Reflection Loss', 660, 33, 22);
    text('Reflection Loss', 1032, 34, 22);
    text('Impedance match', 643, 328, 22);
    text('Impedance match', 1026, 315, 22);
    text('(a)', 38, 34, 23, { bold: true });
    text('(b)', 394, 34, 23, { bold: true });
    text('(c)', 762, 35, 23, { bold: true });
    text('(d)', 38, 311, 23, { bold: true });
    text('(e)', 394, 309, 23, { bold: true });
    text('(f)', 763, 311, 23, { bold: true });

    rule(8, 12, 1106, 1);
    rule(8, 12, 1, 562);
    text('ane and be converted into heat to be consumed to avoid reflection at the interface with a', 0, -3, 31.5,
        { anchor: 'l', family: '"Liberation Serif", serif', color: '#111' });
})();
</script>
</body>
</html>
